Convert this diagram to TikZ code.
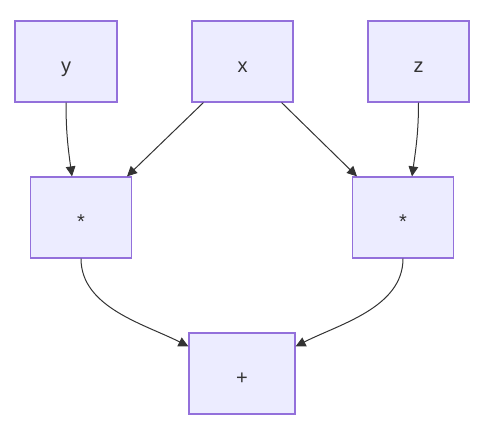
\documentclass[tikz,border=0pt]{standalone}
\usepackage{fontspec}
\setmainfont{Liberation Sans}
\usetikzlibrary{arrows.meta,calc}
\definecolor{boxfill}{HTML}{ECECFF}
\definecolor{boxline}{HTML}{9370DB}
\definecolor{inkgray}{HTML}{333333}
\tikzset{
  opbox/.style={draw=boxline,fill=boxfill,line width=0.9pt,minimum width=75.75pt,
    minimum height=60.75pt,inner sep=0pt,text=inkgray,text height=16.2pt,text depth=0pt,
    font=\fontsize{15}{18}\selectfont},
  edge/.style={draw=inkgray,line width=0.75pt,-{Triangle[length=7.5pt,width=7.2pt]}}
}
\begin{document}
\begin{tikzpicture}[x=0.75pt,y=0.75pt]
\useasboundingbox (0,0) rectangle (493,429);
\node[opbox,minimum width=76.5pt] (y) at (66,367.5) {y};
\node[opbox] (x) at (242.5,367.5) {x};
\node[opbox] (z) at (418.5,367.5) {z};
\node[opbox] (ml) at (81,211.5) {*};
\node[opbox] (mr) at (403,211.5) {*};
\node[opbox,minimum width=79.5pt] (plus) at (242,55.5) {+};
\draw[edge] (y.south) to[out=-90,in=98] ($(ml.north)+(-9,0)$);
\draw[edge] ($(x.south west)+(12,0)$) -- ($(ml.north)+(46,0)$);
\draw[edge] ($(x.south east)+(-12,0)$) -- ($(mr.north)+(-46,0)$);
\draw[edge] (z.south) to[out=-90,in=82] ($(mr.north)+(9,0)$);
\draw[edge] (ml.south) to[out=-90,in=153,looseness=0.9] ($(plus.north west)+(0,-14)$);
\draw[edge] (mr.south) to[out=-90,in=27,looseness=0.9] ($(plus.north east)+(0,-14)$);
\end{tikzpicture}
\end{document}
